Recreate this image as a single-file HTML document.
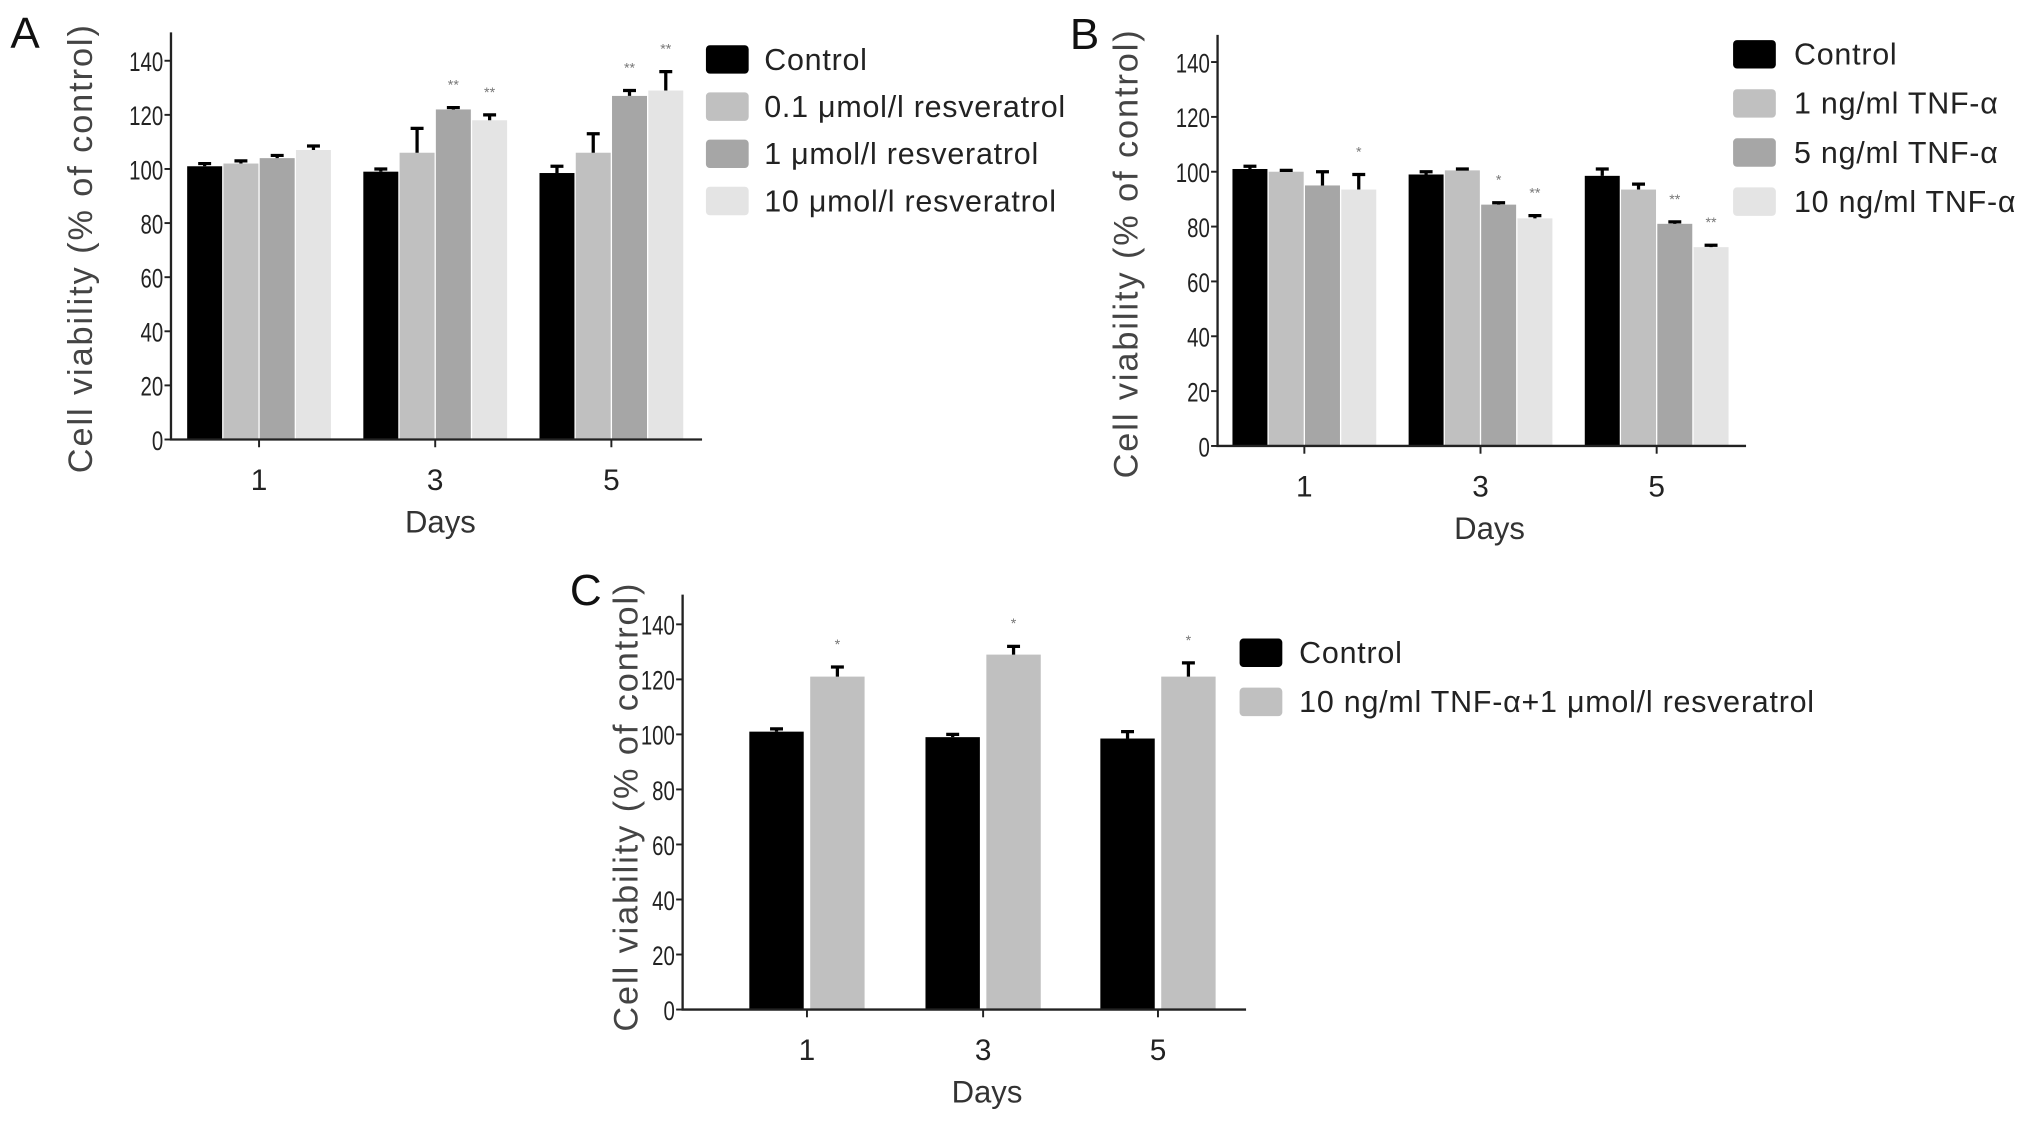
<!DOCTYPE html>
<html><head><meta charset="utf-8"><style>
html,body{margin:0;padding:0;background:#fff;}
svg{display:block;}
text{font-family:"Liberation Sans",sans-serif;}
.tick{font-family:"Liberation Sans",sans-serif;font-size:21px;fill:#222;}
</style></head><body>
<svg id="fig" width="2031" height="1122" viewBox="0 0 1568 868" preserveAspectRatio="none" xmlns="http://www.w3.org/2000/svg"></svg>
<script>
const days = ["1","3","5"];
const yTicks = [0,20,40,60,80,100,120,140];
const colors = ["#000000","#c0c0c0","#a6a6a6","#e4e4e4"];
// Panel A
const aSeries = ["Control","0.1 μmol/l resveratrol","1 μmol/l resveratrol","10 μmol/l resveratrol"];
const aControl = [101,99,98.5];
const aRes01 = [102,106,106];
const aRes1 = [104,122,127];
const aRes10 = [107,118,129];
const aErrControl = [1,1,2.5];
const aErrRes01 = [1,9,7];
const aErrRes1 = [1,0.7,2];
const aErrRes10 = [1.5,2,7];
const aStars = [["","","",""],["","","**","**"],["","","**","**"]];
// Panel B
const bSeries = ["Control","1 ng/ml TNF-α","5 ng/ml TNF-α","10 ng/ml TNF-α"];
const bControl = [101,99,98.5];
const bTnf1 = [100,100.5,93.5];
const bTnf5 = [95,88,81];
const bTnf10 = [93.5,83,72.5];
const bErrControl = [1,1,2.5];
const bErrTnf1 = [0.5,0.5,2];
const bErrTnf5 = [5,0.7,0.7];
const bErrTnf10 = [5.5,1,0.7];
const bStars = [["","","","*"],["","","*","**"],["","","**","**"]];
// Panel C
const cSeries = ["Control","10 ng/ml TNF-α+1 μmol/l resveratrol"];
const cControl = [101,99,98.5];
const cCombo = [121,129,121];
const cErrControl = [1,1,2.5];
const cErrCombo = [3.5,3,5];
const cStars = [["","*"],["","*"],["","*"]];

const svg = document.getElementById('fig');
const NS = "http://www.w3.org/2000/svg";
function mk(tag, attrs, parent){const e=document.createElementNS(NS,tag);for(const k in attrs)e.setAttribute(k,attrs[k]);(parent||svg).appendChild(e);return e;}

function panel(cfg){
  const g = mk('g',{});
  
  
  const y = v => cfg.base - (v/140)*(cfg.base-cfg.top140);
  const xc = i => cfg.groups[i];
  const L = mk('text',{x:cfg.letter[0],y:cfg.letter[1],'font-size':34,fill:'#111'},g); L.textContent=cfg.id;
  
  
  const n = cfg.values.length;
  for(let s=0;s<n;s++){
    for(let i=0;i<days.length;i++){
      const x0 = xc(i) - (n*cfg.bw + (n-1)*cfg.gap)/2 + s*(cfg.bw+cfg.gap);
      const v = cfg.values[s][i], e = cfg.errs[s][i];
      const r = mk('rect',{x:x0,y:y(v),width:cfg.bw,height:cfg.base-y(v),fill:colors[cfg.colorIdx[s]]},g);
      
      
      const cx = x0+cfg.bw/2;
      const eb = mk('path',{d:`M${cx},${y(v)} V${y(v+e)} M${cx-5},${y(v+e)} H${cx+5}`,stroke:'#000','stroke-width':2.5,fill:'none'},g);
      
      
      const st = cfg.stars[i][s];
      if(st){const t=mk('text',{x:cx,y:y(v+e)-14,'font-size':11,fill:'#777','text-anchor':'middle'},g);t.textContent=st;
        
        }
    }
  }
  const ax = mk('path',{d:`M${cfg.ax},${cfg.axTop} V${cfg.base} H${cfg.axRight}`,stroke:'#222','stroke-width':1.8,fill:'none'},g);
  
  
  yTicks.forEach(t=>{
    mk('line',{x1:cfg.ax-5,x2:cfg.ax,y1:y(t),y2:y(t),stroke:'#222','stroke-width':1.5},g);
    const tx = mk('text',{x:0,y:0,'text-anchor':'end',class:'tick',transform:`translate(${cfg.ax-6},${y(t)+8}) scale(0.75,1)`},g); tx.textContent=t;
    
    
  });
  days.forEach((d,i)=>{
    mk('line',{x1:xc(i),x2:xc(i),y1:cfg.base,y2:cfg.base+6,stroke:'#222','stroke-width':1.5},g);
    const tx = mk('text',{x:xc(i),y:cfg.base+39,'text-anchor':'middle','font-size':23,fill:'#222'},g); tx.textContent=d;
    
    
  });
  const xt = mk('text',{x:cfg.daysX,y:cfg.base+72,'text-anchor':'middle','font-size':24,fill:'#333'},g); xt.textContent='Days';
  
  
  const yt = mk('text',{x:0,y:0,'text-anchor':'middle','font-size':26.5,'letter-spacing':1.5,fill:'#444',transform:`translate(${cfg.ytX},${cfg.ytY}) rotate(-90)`},g); yt.textContent='Cell viability (% of control)';
  
  
  cfg.series.forEach((nm,s)=>{
    const ly = cfg.leg[1] + s*cfg.leg[3];
    const sw = mk('rect',{x:cfg.leg[0],y:ly-11,width:33,height:22,rx:3,fill:colors[cfg.colorIdx[s]]},g);
    
    
    const lt = mk('text',{x:cfg.leg[2],y:ly+8,'font-size':23.5,'letter-spacing':0.6,fill:'#222'},g); lt.textContent=nm;
    
    
  });
}

panel({id:'A',letter:[8,37],base:340,top140:47,ax:132,axTop:25,axRight:542,groups:[200,336,472],bw:27,gap:1,
  values:[aControl,aRes01,aRes1,aRes10],errs:[aErrControl,aErrRes01,aErrRes1,aErrRes10],stars:aStars,colorIdx:[0,1,2,3],
  series:aSeries,leg:[545,46,590,36.5],daysX:340,ytX:71,ytY:192});
panel({id:'B',letter:[826,38],base:345,top140:48,ax:940,axTop:27,axRight:1348,groups:[1007,1143,1279],bw:27,gap:1,
  values:[bControl,bTnf1,bTnf5,bTnf10],errs:[bErrControl,bErrTnf1,bErrTnf5,bErrTnf10],stars:bStars,colorIdx:[0,1,2,3],
  series:bSeries,leg:[1338,42,1385,38],daysX:1150,ytX:878,ytY:196});
panel({id:'C',letter:[440,468],base:781,top140:483,ax:527,axTop:460,axRight:962,groups:[623,759,894],bw:42,gap:5,
  values:[cControl,cCombo],errs:[cErrControl,cErrCombo],stars:cStars,colorIdx:[0,1],
  series:cSeries,leg:[957,505,1003,38],daysX:762,ytX:492,ytY:624});
</script>
</body></html>
